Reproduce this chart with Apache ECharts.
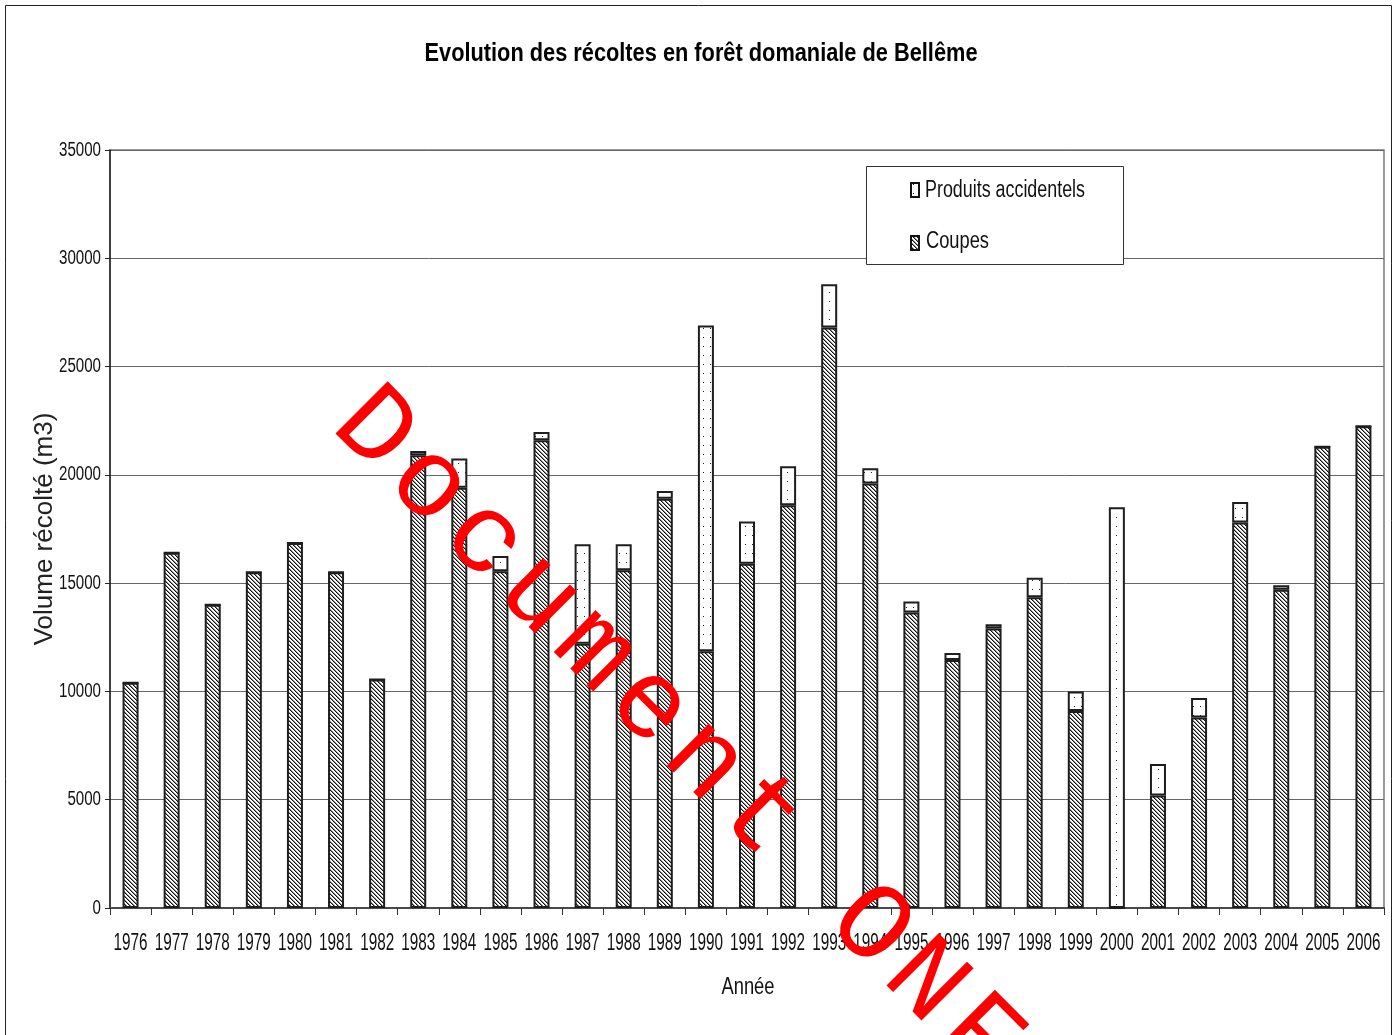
<!DOCTYPE html>
<html>
<head>
<meta charset="utf-8">
<script src="https://cdn.jsdelivr.net/npm/echarts@6/dist/echarts.min.js"></script>
<style>
  html, body { margin: 0; padding: 0; background: #fff; }
  #chart { width: 1399px; height: 1035px; }
</style>
</head>
<body>
<div id="chart"></div>
<script>
// Harvest volumes (m3) per year, Bellême state forest
const years = ['1976','1977','1978','1979','1980','1981','1982','1983','1984','1985',
  '1986','1987','1988','1989','1990','1991','1992','1993','1994','1995','1996','1997',
  '1998','1999','2000','2001','2002','2003','2004','2005','2006'];
const coupes = [10400,16400,14000,15500,16850,15500,10550,20900,19400,15550,
  21600,12200,15600,18900,11850,15900,18600,26800,19600,13650,11450,12900,
  14350,9100,0,5200,8800,17800,14700,21300,22250];
const produitsAccidentels = [0,0,0,0,0,0,0,200,1350,700,
  380,4600,1200,350,15050,1950,1800,2000,700,500,320,200,
  900,900,18500,1450,900,950,200,0,0];
const yTicks = [0,5000,10000,15000,20000,25000,30000,35000];

const FONT = '"Liberation Sans", Arial, sans-serif';

// fill patterns: fine diagonal hatch for cuts, sparse dots for accidental products
function hatchCanvas() {
  const c = document.createElement('canvas');
  c.width = 4; c.height = 4;
  const ctx = c.getContext('2d');
  ctx.fillStyle = '#fff'; ctx.fillRect(0, 0, 4, 4);
  for (let i = 0; i < 4; i++) {
    ctx.fillStyle = '#111'; ctx.fillRect(i, i, 1, 1);
    ctx.fillStyle = '#8a8a8a'; ctx.fillRect((i + 1) % 4, i, 1, 1);
  }
  return c;
}
function dotCanvas() {
  const c = document.createElement('canvas');
  c.width = 7; c.height = 9;
  const ctx = c.getContext('2d');
  ctx.fillStyle = '#fff'; ctx.fillRect(0, 0, 7, 9);
  ctx.fillStyle = '#222'; ctx.fillRect(3, 4, 1, 1);
  return c;
}
const hatchFill = { image: hatchCanvas(), repeat: 'repeat' };
const dotFill = { image: dotCanvas(), repeat: 'repeat' };

// horizontal squeeze factor so a string fits a given width
const measureCtx = document.createElement('canvas').getContext('2d');
function squeeze(text, font, width) {
  measureCtx.font = font;
  return width / measureCtx.measureText(text).width;
}

const chart = echarts.init(document.getElementById('chart'), null, { renderer: 'canvas' });

const barBorder = { borderColor: '#1e1e1e', borderWidth: 2 };

chart.setOption({
  animation: false,
  backgroundColor: '#fff',
  grid: { left: 110, right: 15, top: 150, bottom: 127, show: true,
          borderColor: '#7a7a7a', borderWidth: 1.5, backgroundColor: 'transparent' },
  xAxis: {
    type: 'category',
    data: years,
    boundaryGap: true,
    axisLine: { lineStyle: { color: '#4a4a4a', width: 2 } },
    axisTick: { show: true, length: 7, alignWithLabel: false, lineStyle: { color: '#333', width: 1 } },
    axisLabel: { show: false }
  },
  yAxis: {
    type: 'value',
    min: 0, max: 35000, interval: 5000,
    axisLine: { show: true, lineStyle: { color: '#222', width: 1.5 } },
    axisTick: { show: true, length: 5, lineStyle: { color: '#222' } },
    axisLabel: { show: false },
    splitLine: { show: true, lineStyle: { color: '#666', width: 1 } }
  },
  series: [
    {
      name: 'Coupes', type: 'bar', stack: 'total', barWidth: 16,
      data: coupes,
      itemStyle: Object.assign({ color: hatchFill }, barBorder)
    },
    {
      name: 'Produits accidentels', type: 'bar', stack: 'total', barWidth: 16,
      data: produitsAccidentels,
      itemStyle: Object.assign({ color: dotFill }, barBorder)
    }
  ]
});

// texts and decorations placed from the axis scales
function buildGraphics() {
  const g = [];
  const plotBottom = chart.convertToPixel({ yAxisIndex: 0 }, 0);

  // frame around the whole chart
  g.push({ type: 'rect', silent: true, z: -10,
    shape: { x: 5.5, y: 5.5, width: 1386, height: 1050 },
    style: { fill: 'transparent', stroke: '#222', lineWidth: 1 } });

  // title
  const titleText = 'Evolution des récoltes en forêt domaniale de Bellême';
  const titleFont = 'bold 26px ' + FONT;
  g.push({ type: 'text', x: 701, y: 54, scaleX: squeeze(titleText, titleFont, 553),
    style: { text: titleText, fontSize: 26, fontWeight: 'bold', fontFamily: FONT, fill: '#000',
             textAlign: 'center', textVerticalAlign: 'middle', verticalAlign: 'middle' } });

  // category labels
  const xFont = '24px ' + FONT;
  const xs = squeeze('1976', xFont, 34);
  years.forEach(function (yr) {
    const px = chart.convertToPixel({ xAxisIndex: 0 }, yr);
    g.push({ type: 'text', x: px, y: plotBottom + 35, scaleX: xs,
      style: { text: yr, fontSize: 24, fontFamily: FONT, fill: '#111',
               textAlign: 'center', textVerticalAlign: 'middle', verticalAlign: 'middle' } });
  });

  // value labels
  const yFont = '20px ' + FONT;
  const ys = squeeze('35000', yFont, 42);
  yTicks.forEach(function (v) {
    const py = chart.convertToPixel({ yAxisIndex: 0 }, v);
    g.push({ type: 'text', x: 101, y: py, scaleX: ys,
      style: { text: String(v), fontSize: 20, fontFamily: FONT, fill: '#111',
               textAlign: 'right', textVerticalAlign: 'middle', verticalAlign: 'middle' } });
  });

  // axis names
  const xnFont = '24px ' + FONT;
  g.push({ type: 'text', x: 748, y: 987, scaleX: squeeze('Année', xnFont, 53),
    style: { text: 'Année', fontSize: 24, fontFamily: FONT, fill: '#111',
             textAlign: 'center', textVerticalAlign: 'middle', verticalAlign: 'middle' } });
  g.push({ type: 'text', x: 45, y: 529, rotation: Math.PI / 2,
    style: { text: 'Volume récolté (m3)', fontSize: 26, fontFamily: FONT, fill: '#222',
             textAlign: 'center', textVerticalAlign: 'middle', verticalAlign: 'middle' } });

  // legend
  g.push({ type: 'rect', z: 5, shape: { x: 866.5, y: 166.5, width: 257, height: 98 },
    style: { fill: '#fff', stroke: '#333', lineWidth: 1 } });
  g.push({ type: 'rect', z: 6, shape: { x: 911, y: 183, width: 8, height: 14 },
    style: { fill: dotFill, stroke: '#111', lineWidth: 2 } });
  g.push({ type: 'rect', z: 6, shape: { x: 911, y: 236, width: 8, height: 14 },
    style: { fill: hatchFill, stroke: '#111', lineWidth: 2 } });
  const lgFont = '23px ' + FONT;
  g.push({ type: 'text', z: 6, x: 925, y: 191, scaleX: squeeze('Produits accidentels', lgFont, 160),
    style: { text: 'Produits accidentels', fontSize: 23, fontFamily: FONT, fill: '#111',
             textAlign: 'left', textVerticalAlign: 'middle', verticalAlign: 'middle' } });
  g.push({ type: 'text', z: 6, x: 926, y: 242, scaleX: squeeze('Coupes', lgFont, 63),
    style: { text: 'Coupes', fontSize: 23, fontFamily: FONT, fill: '#111',
             textAlign: 'left', textVerticalAlign: 'middle', verticalAlign: 'middle' } });

  // red stamp across the chart, one glyph per step along a 45° line
  const stamp = 'Document ONF';
  const stampFont = '"Liberation Mono", "DejaVu Sans Mono", monospace';
  for (let i = 0; i < stamp.length; i++) {
    const ch = stamp[i];
    if (ch === ' ') continue;
    g.push({ type: 'text', z: 100, silent: true,
      x: 374 + 55.1 * i, y: 430 + 55.2 * i, rotation: -Math.PI / 4,
      style: { text: ch, fontSize: 112, fontFamily: stampFont, fill: '#ff0000',
               textAlign: 'center', textVerticalAlign: 'middle', verticalAlign: 'middle' } });
  }

  chart.setOption({ graphic: g });
}
buildGraphics();
</script>
</body>
</html>
